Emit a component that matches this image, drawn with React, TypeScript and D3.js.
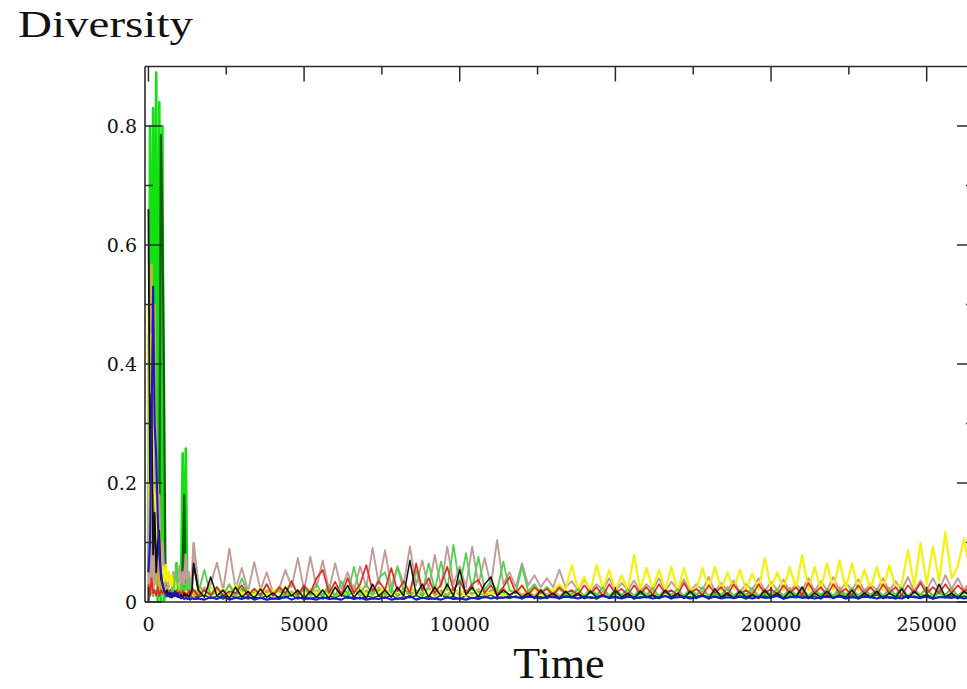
import React from "react";
import * as d3 from "d3";

// sampling times: dense during the start-up transient, then every 200 steps
const earlyTimes = [
  0, 50, 100, 150, 200, 250, 300, 350, 400, 450,
  500, 550, 600, 650, 700, 750, 800, 850, 900, 950,
  1000, 1050, 1100, 1150, 1200, 1250, 1300, 1350, 1400, 1450,
];
const lateTimes = [
  1600, 1800, 2000, 2200, 2400, 2600, 2800, 3000, 3200, 3400,
  3600, 3800, 4000, 4200, 4400, 4600, 4800, 5000, 5200, 5400,
  5600, 5800, 6000, 6200, 6400, 6600, 6800, 7000, 7200, 7400,
  7600, 7800, 8000, 8200, 8400, 8600, 8800, 9000, 9200, 9400,
  9600, 9800, 10000, 10200, 10400, 10600, 10800, 11000, 11200, 11400,
  11600, 11800, 12000, 12200, 12400, 12600, 12800, 13000, 13200, 13400,
  13600, 13800, 14000, 14200, 14400, 14600, 14800, 15000, 15200, 15400,
  15600, 15800, 16000, 16200, 16400, 16600, 16800, 17000, 17200, 17400,
  17600, 17800, 18000, 18200, 18400, 18600, 18800, 19000, 19200, 19400,
  19600, 19800, 20000, 20200, 20400, 20600, 20800, 21000, 21200, 21400,
  21600, 21800, 22000, 22200, 22400, 22600, 22800, 23000, 23200, 23400,
  23600, 23800, 24000, 24200, 24400, 24600, 24800, 25000, 25200, 25400,
  25600, 25800, 26000, 26200, 26400,
];
const times = [...earlyTimes, ...lateTimes];
const earlyCount = earlyTimes.length;

// diversity per population (first 30 = early, rest = late)
const lime = [
  0.05, 0.8, 0.3, 0.83, 0.35, 0.89, 0.0, 0.84, 0.0, 0.8,
  0.0, 0.02, 0.01, 0.015, 0.01, 0.02, 0.012, 0.02, 0.065, 0.015,
  0.02, 0.03, 0.25, 0.02, 0.258, 0.015, 0.02, 0.01, 0.015, 0.012,
  0.012, 0.02, 0.01, 0.018, 0.008, 0.015, 0.012, 0.022, 0.01, 0.016,
  0.01, 0.018, 0.012, 0.02, 0.008, 0.016, 0.01, 0.022, 0.012, 0.015,
  0.01, 0.02, 0.012, 0.016, 0.008, 0.022, 0.01, 0.018, 0.012, 0.02,
  0.014, 0.022, 0.01, 0.018, 0.012, 0.02, 0.01, 0.024, 0.012, 0.018,
  0.01, 0.022, 0.012, 0.02, 0.014, 0.018, 0.01, 0.02, 0.012, 0.016,
  0.01, 0.018, 0.012, 0.015, 0.008, 0.016, 0.01, 0.014, 0.008, 0.012,
  0.01, 0.014, 0.008, 0.016, 0.01, 0.012, 0.008, 0.015, 0.01, 0.013,
  0.008, 0.014, 0.01, 0.012, 0.008, 0.016, 0.01, 0.013, 0.008, 0.015,
  0.01, 0.012, 0.008, 0.014, 0.01, 0.016, 0.008, 0.012, 0.01, 0.015,
  0.008, 0.013, 0.01, 0.016, 0.008, 0.012, 0.01, 0.014, 0.008, 0.015,
  0.01, 0.012, 0.008, 0.016, 0.01, 0.014, 0.008, 0.012, 0.01, 0.015,
  0.008, 0.014, 0.01, 0.012, 0.008, 0.016, 0.01, 0.013, 0.008, 0.015,
  0.01, 0.014, 0.008, 0.016, 0.012,
];

const darkGreen = [
  0.0, 0.02, 0.05, 0.02, 0.1, 0.05, 0.2, 0.1, 0.785, 0.63,
  0.38, 0.03, 0.015, 0.01, 0.012, 0.008, 0.01, 0.012, 0.01, 0.015,
  0.01, 0.02, 0.06, 0.18, 0.02, 0.01, 0.012, 0.01, 0.015, 0.01,
  0.008, 0.012, 0.006, 0.01, 0.005, 0.012, 0.007, 0.01, 0.005, 0.009,
  0.006, 0.011, 0.005, 0.009, 0.007, 0.012, 0.005, 0.01, 0.006, 0.009,
  0.005, 0.01, 0.007, 0.012, 0.006, 0.009, 0.005, 0.011, 0.007, 0.01,
  0.006, 0.012, 0.005, 0.009, 0.007, 0.011, 0.006, 0.01, 0.005, 0.012,
  0.007, 0.009, 0.005, 0.011, 0.006, 0.01, 0.007, 0.012, 0.005, 0.009,
  0.006, 0.01, 0.005, 0.012, 0.007, 0.009, 0.006, 0.011, 0.005, 0.01,
  0.007, 0.012, 0.006, 0.009, 0.005, 0.011, 0.007, 0.01, 0.006, 0.012,
  0.005, 0.009, 0.007, 0.011, 0.006, 0.01, 0.005, 0.012, 0.007, 0.009,
  0.006, 0.011, 0.005, 0.01, 0.007, 0.012, 0.006, 0.009, 0.005, 0.011,
  0.007, 0.01, 0.006, 0.012, 0.005, 0.009, 0.007, 0.011, 0.006, 0.01,
  0.005, 0.012, 0.007, 0.009, 0.006, 0.011, 0.005, 0.01, 0.007, 0.012,
  0.006, 0.009, 0.005, 0.011, 0.007, 0.01, 0.006, 0.012, 0.005, 0.009,
  0.007, 0.011, 0.006, 0.01, 0.008,
];

const goldenrod = [
  0.45, 0.02, 0.567, 0.01, 0.5, 0.03, 0.2, 0.02, 0.1, 0.015,
  0.03, 0.02, 0.025, 0.015, 0.02, 0.012, 0.018, 0.01, 0.02, 0.012,
  0.015, 0.01, 0.02, 0.012, 0.018, 0.01, 0.02, 0.012, 0.015, 0.01,
  0.015, 0.025, 0.01, 0.02, 0.012, 0.028, 0.01, 0.018, 0.012, 0.022,
  0.01, 0.02, 0.014, 0.026, 0.01, 0.018, 0.012, 0.024, 0.01, 0.02,
  0.012, 0.022, 0.01, 0.018, 0.014, 0.028, 0.01, 0.02, 0.012, 0.025,
  0.01, 0.02, 0.012, 0.024, 0.01, 0.018, 0.014, 0.026, 0.01, 0.02,
  0.012, 0.025, 0.01, 0.02, 0.012, 0.022, 0.01, 0.018, 0.014, 0.024,
  0.01, 0.02, 0.012, 0.018, 0.01, 0.022, 0.012, 0.02, 0.01, 0.018,
  0.012, 0.02, 0.01, 0.024, 0.012, 0.018, 0.01, 0.022, 0.012, 0.02,
  0.01, 0.025, 0.012, 0.018, 0.01, 0.022, 0.012, 0.02, 0.01, 0.024,
  0.012, 0.018, 0.01, 0.022, 0.012, 0.025, 0.01, 0.02, 0.012, 0.018,
  0.01, 0.022, 0.012, 0.02, 0.01, 0.024, 0.012, 0.018, 0.01, 0.022,
  0.012, 0.02, 0.01, 0.025, 0.012, 0.018, 0.01, 0.022, 0.012, 0.02,
  0.01, 0.024, 0.012, 0.02, 0.01, 0.022, 0.012, 0.025, 0.01, 0.02,
  0.012, 0.022, 0.01, 0.02, 0.015,
];

const tan = [
  0.0, 0.5, 0.02, 0.45, 0.03, 0.3, 0.05, 0.18, 0.04, 0.1,
  0.05, 0.03, 0.045, 0.025, 0.04, 0.03, 0.05, 0.025, 0.04, 0.03,
  0.06, 0.025, 0.05, 0.03, 0.08, 0.03, 0.05, 0.025, 0.04, 0.099,
  0.028, 0.018, 0.03, 0.066, 0.02, 0.09, 0.022, 0.057, 0.018, 0.067,
  0.02, 0.05, 0.016, 0.022, 0.054, 0.025, 0.074, 0.02, 0.076, 0.025,
  0.07, 0.02, 0.065, 0.022, 0.05, 0.018, 0.06, 0.025, 0.091, 0.03,
  0.087, 0.025, 0.06, 0.03, 0.093, 0.028, 0.07, 0.022, 0.079, 0.025,
  0.093, 0.03, 0.06, 0.025, 0.093, 0.03, 0.074, 0.028, 0.104, 0.03,
  0.05, 0.025, 0.065, 0.028, 0.045, 0.025, 0.04, 0.025, 0.054, 0.025,
  0.035, 0.02, 0.038, 0.018, 0.03, 0.02, 0.04, 0.018, 0.032, 0.02,
  0.036, 0.017, 0.03, 0.02, 0.04, 0.018, 0.034, 0.02, 0.038, 0.018,
  0.03, 0.02, 0.042, 0.018, 0.032, 0.02, 0.036, 0.017, 0.03, 0.02,
  0.04, 0.018, 0.034, 0.02, 0.038, 0.018, 0.03, 0.02, 0.04, 0.018,
  0.035, 0.02, 0.042, 0.018, 0.032, 0.02, 0.038, 0.018, 0.03, 0.02,
  0.04, 0.018, 0.035, 0.02, 0.042, 0.018, 0.036, 0.02, 0.04, 0.02,
  0.045, 0.022, 0.04, 0.02, 0.035,
];

const yellow = [
  0.5, 0.1, 0.45, 0.2, 0.18, 0.15, 0.1, 0.12, 0.05, 0.06,
  0.035, 0.062, 0.035, 0.05, 0.03, 0.045, 0.02, 0.035, 0.015, 0.03,
  0.012, 0.025, 0.01, 0.02, 0.012, 0.022, 0.01, 0.02, 0.012, 0.018,
  0.02, 0.012, 0.025, 0.015, 0.022, 0.01, 0.028, 0.014, 0.02, 0.012,
  0.024, 0.01, 0.02, 0.015, 0.026, 0.012, 0.018, 0.01, 0.022, 0.014,
  0.02, 0.01, 0.025, 0.012, 0.018, 0.015, 0.027, 0.01, 0.02, 0.014,
  0.024, 0.012, 0.02, 0.01, 0.026, 0.014, 0.02, 0.012, 0.028, 0.01,
  0.022, 0.014, 0.02, 0.01, 0.025, 0.012, 0.018, 0.014, 0.024, 0.01,
  0.02, 0.015, 0.026, 0.012, 0.022, 0.014, 0.025, 0.018, 0.03, 0.02,
  0.062, 0.02, 0.042, 0.018, 0.062, 0.022, 0.054, 0.018, 0.045, 0.02,
  0.079, 0.02, 0.057, 0.022, 0.054, 0.02, 0.059, 0.018, 0.057, 0.022,
  0.02, 0.057, 0.022, 0.059, 0.02, 0.05, 0.022, 0.054, 0.02, 0.048,
  0.02, 0.074, 0.022, 0.05, 0.02, 0.059, 0.022, 0.079, 0.02, 0.059,
  0.022, 0.065, 0.02, 0.07, 0.022, 0.065, 0.02, 0.054, 0.022, 0.059,
  0.02, 0.062, 0.025, 0.03, 0.087, 0.025, 0.099, 0.03, 0.093, 0.035,
  0.118, 0.04, 0.06, 0.107, 0.05,
];

const lightGreen = [
  0.01, 0.02, 0.015, 0.01, 0.02, 0.015, 0.01, 0.02, 0.01, 0.015,
  0.02, 0.01, 0.015, 0.02, 0.01, 0.025, 0.015, 0.04, 0.06, 0.02,
  0.015, 0.03, 0.02, 0.015, 0.03, 0.02, 0.04, 0.015, 0.025, 0.02,
  0.015, 0.054, 0.01, 0.025, 0.012, 0.03, 0.01, 0.04, 0.012, 0.022,
  0.01, 0.03, 0.012, 0.02, 0.01, 0.035, 0.012, 0.025, 0.01, 0.03,
  0.012, 0.028, 0.01, 0.035, 0.012, 0.059, 0.015, 0.03, 0.012, 0.04,
  0.05, 0.015, 0.059, 0.02, 0.015, 0.054, 0.015, 0.065, 0.02, 0.068,
  0.02, 0.096, 0.025, 0.082, 0.02, 0.076, 0.02, 0.035, 0.018, 0.068,
  0.02, 0.015, 0.059, 0.018, 0.03, 0.015, 0.025, 0.012, 0.022, 0.012,
  0.015, 0.022, 0.01, 0.02, 0.012, 0.025, 0.01, 0.018, 0.012, 0.022,
  0.01, 0.02, 0.012, 0.024, 0.01, 0.018, 0.012, 0.022, 0.01, 0.02,
  0.012, 0.025, 0.01, 0.018, 0.012, 0.022, 0.01, 0.02, 0.012, 0.024,
  0.01, 0.018, 0.012, 0.022, 0.01, 0.02, 0.012, 0.025, 0.01, 0.018,
  0.012, 0.022, 0.01, 0.02, 0.012, 0.024, 0.01, 0.018, 0.012, 0.022,
  0.01, 0.02, 0.012, 0.025, 0.01, 0.018, 0.012, 0.022, 0.01, 0.02,
  0.012, 0.024, 0.01, 0.02, 0.015,
];

const red = [
  0.03, 0.01, 0.04, 0.015, 0.02, 0.01, 0.025, 0.01, 0.02, 0.015,
  0.02, 0.01, 0.018, 0.012, 0.02, 0.01, 0.015, 0.012, 0.02, 0.01,
  0.018, 0.012, 0.02, 0.01, 0.015, 0.012, 0.02, 0.01, 0.015, 0.02,
  0.01, 0.02, 0.012, 0.025, 0.01, 0.018, 0.015, 0.028, 0.01, 0.022,
  0.012, 0.03, 0.01, 0.025, 0.015, 0.035, 0.012, 0.028, 0.015, 0.04,
  0.054, 0.015, 0.034, 0.012, 0.04, 0.015, 0.03, 0.062, 0.018, 0.035,
  0.02, 0.057, 0.018, 0.035, 0.015, 0.065, 0.02, 0.04, 0.015, 0.03,
  0.059, 0.02, 0.035, 0.015, 0.03, 0.037, 0.015, 0.028, 0.012, 0.025,
  0.042, 0.015, 0.028, 0.012, 0.025, 0.015, 0.022, 0.012, 0.025, 0.015,
  0.02, 0.012, 0.028, 0.015, 0.025, 0.01, 0.03, 0.015, 0.022, 0.012,
  0.028, 0.014, 0.025, 0.012, 0.03, 0.015, 0.02, 0.012, 0.032, 0.015,
  0.022, 0.012, 0.028, 0.015, 0.025, 0.012, 0.03, 0.014, 0.02, 0.012,
  0.03, 0.015, 0.022, 0.012, 0.028, 0.015, 0.025, 0.012, 0.032, 0.015,
  0.025, 0.012, 0.03, 0.015, 0.022, 0.012, 0.028, 0.014, 0.025, 0.012,
  0.03, 0.015, 0.025, 0.012, 0.028, 0.015, 0.032, 0.014, 0.025, 0.015,
  0.03, 0.015, 0.028, 0.018, 0.025,
];

const black = [
  0.66, 0.2, 0.35, 0.08, 0.15, 0.05, 0.1, 0.12, 0.04, 0.03,
  0.02, 0.015, 0.02, 0.01, 0.015, 0.008, 0.012, 0.01, 0.015, 0.008,
  0.01, 0.012, 0.008, 0.015, 0.01, 0.012, 0.008, 0.015, 0.02, 0.065,
  0.02, 0.008, 0.042, 0.01, 0.02, 0.006, 0.025, 0.008, 0.018, 0.006,
  0.022, 0.008, 0.015, 0.006, 0.025, 0.01, 0.02, 0.006, 0.018, 0.008,
  0.02, 0.006, 0.025, 0.01, 0.028, 0.008, 0.02, 0.006, 0.03, 0.01,
  0.02, 0.008, 0.025, 0.01, 0.07, 0.012, 0.03, 0.008, 0.025, 0.01,
  0.03, 0.01, 0.054, 0.012, 0.025, 0.008, 0.03, 0.042, 0.01, 0.02,
  0.012, 0.018, 0.008, 0.015, 0.006, 0.02, 0.008, 0.015, 0.006, 0.018,
  0.008, 0.015, 0.006, 0.018, 0.008, 0.012, 0.006, 0.02, 0.008, 0.015,
  0.006, 0.018, 0.008, 0.012, 0.006, 0.02, 0.008, 0.015, 0.006, 0.018,
  0.008, 0.012, 0.006, 0.022, 0.008, 0.015, 0.006, 0.018, 0.008, 0.012,
  0.006, 0.02, 0.008, 0.015, 0.006, 0.018, 0.008, 0.025, 0.006, 0.015,
  0.008, 0.018, 0.006, 0.012, 0.008, 0.02, 0.006, 0.015, 0.008, 0.018,
  0.006, 0.015, 0.008, 0.022, 0.006, 0.018, 0.008, 0.012, 0.006, 0.03,
  0.008, 0.015, 0.006, 0.018, 0.01,
];

const blue = [
  0.05, 0.1, 0.3, 0.53, 0.3, 0.245, 0.14, 0.08, 0.05, 0.03,
  0.02, 0.015, 0.01, 0.012, 0.008, 0.015, 0.012, 0.018, 0.01, 0.015,
  0.008, 0.006, 0.008, 0.005, 0.007, 0.005, 0.006, 0.004, 0.007, 0.005,
  0.006, 0.004, 0.008, 0.005, 0.01, 0.004, 0.007, 0.005, 0.009, 0.004,
  0.007, 0.004, 0.006, 0.005, 0.009, 0.004, 0.008, 0.005, 0.006, 0.004,
  0.008, 0.005, 0.006, 0.004, 0.009, 0.005, 0.007, 0.004, 0.006, 0.005,
  0.008, 0.004, 0.006, 0.005, 0.01, 0.004, 0.007, 0.005, 0.006, 0.004,
  0.008, 0.005, 0.006, 0.004, 0.007, 0.005, 0.009, 0.006, 0.008, 0.007,
  0.009, 0.008, 0.007, 0.009, 0.008, 0.006, 0.009, 0.008, 0.007, 0.009,
  0.008, 0.006, 0.009, 0.007, 0.008, 0.01, 0.007, 0.008, 0.006, 0.009,
  0.008, 0.007, 0.009, 0.006, 0.008, 0.01, 0.007, 0.008, 0.009, 0.006,
  0.008, 0.01, 0.007, 0.009, 0.006, 0.008, 0.007, 0.009, 0.008, 0.006,
  0.009, 0.007, 0.008, 0.01, 0.006, 0.008, 0.009, 0.007, 0.008, 0.006,
  0.008, 0.009, 0.007, 0.01, 0.006, 0.008, 0.007, 0.009, 0.008, 0.006,
  0.009, 0.007, 0.008, 0.006, 0.01, 0.008, 0.007, 0.009, 0.006, 0.008,
  0.008, 0.007, 0.009, 0.006, 0.008,
];

// back to front; the start-up burst is stroked heavier (it reads as solid bands)
const series = [
  { name: "lime", values: lime, color: "#12e012", width: 1.9, early: 2.6 },
  { name: "darkGreen", values: darkGreen, color: "#0d5e0d", width: 1.6, early: 2.2 },
  { name: "goldenrod", values: goldenrod, color: "#d6ac3c", width: 1.9, early: 2.6 },
  { name: "tan", values: tan, color: "#c29c96", width: 1.9, early: 2.4 },
  { name: "yellow", values: yellow, color: "#f3f300", width: 2.1, early: 2.4 },
  { name: "lightGreen", values: lightGreen, color: "#4fd24f", width: 1.8, early: 1.8 },
  { name: "red", values: red, color: "#e32a2a", width: 1.7, early: 1.7 },
  { name: "black", values: black, color: "#111111", width: 1.5, early: 1.8 },
  { name: "blue", values: blue, color: "#1818cc", width: 2.1, early: 2.1 },
];

const xTickValues = [0, 5000, 10000, 15000, 20000, 25000];
const xTickMarks = [0, 2500, 5000, 7500, 10000, 12500, 15000, 17500, 20000, 22500, 25000];
const yTickValues = [0, 0.2, 0.4, 0.6, 0.8];
const yTickMarks = [0, 0.1, 0.2, 0.3, 0.4, 0.5, 0.6, 0.7, 0.8];

export default function App() {
  const width = 967;
  const height = 689;
  const left = 145;
  const right = 974;
  const top = 66.5;
  const bottom = 602;

  const x = d3.scaleLinear().domain([-110, 26520]).range([left, right]);
  const y = d3.scaleLinear().domain([0, 0.9]).range([bottom, top]);

  const line = d3
    .line<[number, number]>()
    .x((d) => x(d[0]))
    .y((d) => y(d[1]));

  const tickFont = "'DejaVu Serif', serif";
  const isMajorX = (t: number) => t % 5000 === 0;
  const isMajorY = (i: number) => i % 2 === 0;

  return (
    <svg
      width={width}
      height={height}
      style={{ position: "absolute", left: 0, top: 0, background: "#fff" }}
    >
      <defs>
        <clipPath id="plot-area">
          <rect x={left} y={top} width={right - left} height={bottom - top} />
        </clipPath>
      </defs>

      <g clipPath="url(#plot-area)" fill="none" strokeLinejoin="round">
        {series.map((s) => {
          const pts = s.values
            .map((v, i) => [times[i], v] as [number, number])
            .filter((d) => d[0] !== undefined);
          const head = pts.slice(0, earlyCount + 1);
          const tail = pts.slice(earlyCount - 1);
          return (
            <g key={s.name} stroke={s.color}>
              <path d={line(tail) || ""} strokeWidth={s.width} />
              <path d={line(head) || ""} strokeWidth={s.early} />
            </g>
          );
        })}
      </g>

      {/* frame */}
      <g stroke="#2a2a2a" strokeWidth={1.6} fill="none">
        <line x1={left} y1={top} x2={right} y2={top} />
        <line x1={left} y1={bottom} x2={right} y2={bottom} />
        <line x1={left} y1={top} x2={left} y2={bottom} />
        <line x1={right} y1={top} x2={right} y2={bottom} />
      </g>

      {/* ticks on all four sides, pointing inward */}
      <g stroke="#2a2a2a" strokeWidth={1.5}>
        {xTickMarks.map((t) => {
          const len = isMajorX(t) ? 15 : 8;
          return (
            <g key={"xt" + t}>
              <line x1={x(t)} x2={x(t)} y1={top} y2={top + len} />
              <line x1={x(t)} x2={x(t)} y1={bottom} y2={bottom - len} />
            </g>
          );
        })}
        {yTickMarks.map((v, i) => {
          const len = isMajorY(i) ? 17 : 8;
          return (
            <g key={"yt" + v}>
              <line x1={left} x2={left + len} y1={y(v)} y2={y(v)} />
              <line x1={right} x2={right - len} y1={y(v)} y2={y(v)} />
            </g>
          );
        })}
      </g>

      {/* tick labels */}
      <g fontFamily={tickFont} fontSize={19} fill="#111">
        {xTickValues.map((t) => (
          <text key={"xl" + t} x={x(t)} y={631} textAnchor="middle">
            {t}
          </text>
        ))}
        {yTickValues.map((v) => (
          <text key={"yl" + v} x={137} y={y(v) + 7} textAnchor="end">
            {v === 0 ? "0" : v.toFixed(1)}
          </text>
        ))}
      </g>

      <text
        x={18}
        y={37}
        fontFamily="'Liberation Serif', serif"
        fontSize={38}
        textLength={175}
        lengthAdjust="spacingAndGlyphs"
        fill="#111"
      >
        Diversity
      </text>
      <text
        x={559}
        y={678}
        fontFamily="'Liberation Serif', serif"
        fontSize={44}
        textAnchor="middle"
        fill="#111"
      >
        Time
      </text>
    </svg>
  );
}
